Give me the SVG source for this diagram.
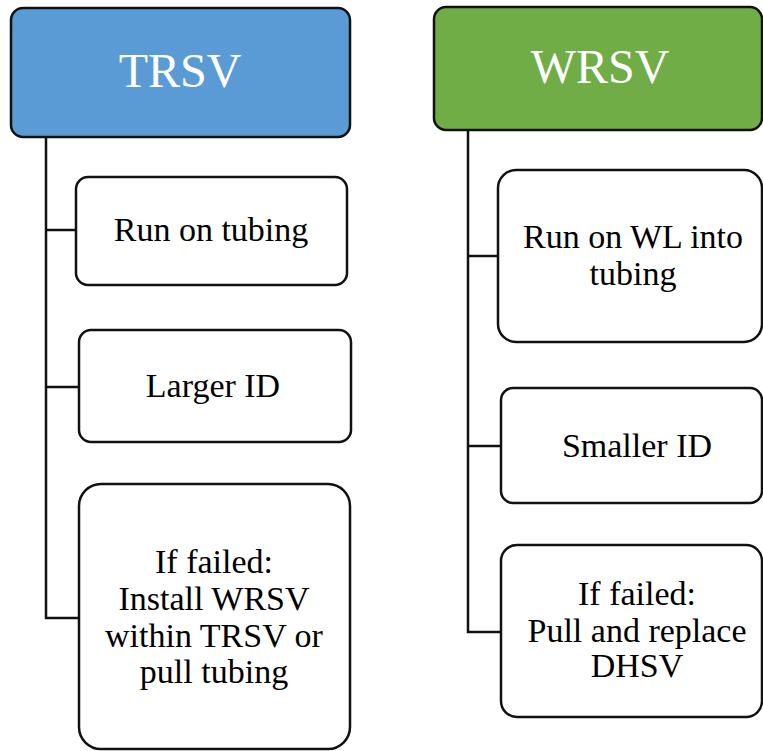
<svg xmlns="http://www.w3.org/2000/svg" width="763" height="751" viewBox="0 0 763 751">
<style>
.box{fill:#ffffff;stroke:#111111;stroke-width:2.5}
.hdr{stroke:#111111;stroke-width:2.5}
.t{font-size:34px;fill:#000000;text-anchor:middle}
.h{font-size:48px;fill:#ffffff;text-anchor:middle}
.c{fill:none;stroke:#111111;stroke-width:2.5}
</style>
<rect width="763" height="751" fill="#ffffff"/>
<g id="connectors">
<path class="c" d="M46 137 V618 H79 M46 230 H76 M46 387 H79"/>
<path class="c" d="M468 130 V632 H501 M468 256 H498 M468 446 H501"/>
</g>
<g font-family="Liberation Serif, Times New Roman, serif">
<g id="trsv">
<rect class="hdr" x="11" y="8" width="339" height="129" rx="12" fill="#5B9BD5"/>
<text class="h" x="180" y="87" font-family="Liberation Serif">TRSV</text>
</g>
<g id="run-on-tubing">
<rect class="box" x="76" y="177" width="271" height="108" rx="12"/>
<text class="t" x="211" y="241" font-family="Liberation Serif">Run on tubing</text>
</g>
<g id="larger-id">
<rect class="box" x="79" y="330" width="272" height="112" rx="12"/>
<text class="t" x="213" y="397" font-family="Liberation Serif">Larger ID</text>
</g>
<g id="trsv-failed">
<rect class="box" x="79" y="484" width="271" height="265" rx="22"/>
<text class="t" x="214" y="573" font-family="Liberation Serif">If failed:</text>
<text class="t" x="214" y="610" font-family="Liberation Serif">Install WRSV</text>
<text class="t" x="214" y="647" font-family="Liberation Serif">within TRSV or</text>
<text class="t" x="214" y="683" font-family="Liberation Serif">pull tubing</text>
</g>
<g id="wrsv">
<rect class="hdr" x="434" y="7" width="328" height="123" rx="12" fill="#70AD47"/>
<text class="h" x="600" y="83" font-family="Liberation Serif">WRSV</text>
</g>
<g id="run-on-wl">
<rect class="box" x="498" y="170" width="264" height="172" rx="18"/>
<text class="t" x="633" y="248" font-family="Liberation Serif">Run on WL into</text>
<text class="t" x="633" y="285" font-family="Liberation Serif">tubing</text>
</g>
<g id="smaller-id">
<rect class="box" x="501" y="388" width="261" height="115" rx="12"/>
<text class="t" x="637" y="457" font-family="Liberation Serif">Smaller ID</text>
</g>
<g id="wrsv-failed">
<rect class="box" x="501" y="545" width="261" height="172" rx="16"/>
<text class="t" x="637" y="605" font-family="Liberation Serif">If failed:</text>
<text class="t" x="637" y="642" font-family="Liberation Serif">Pull and replace</text>
<text class="t" x="637" y="677" font-family="Liberation Serif">DHSV</text>
</g>
</g>
</svg>
